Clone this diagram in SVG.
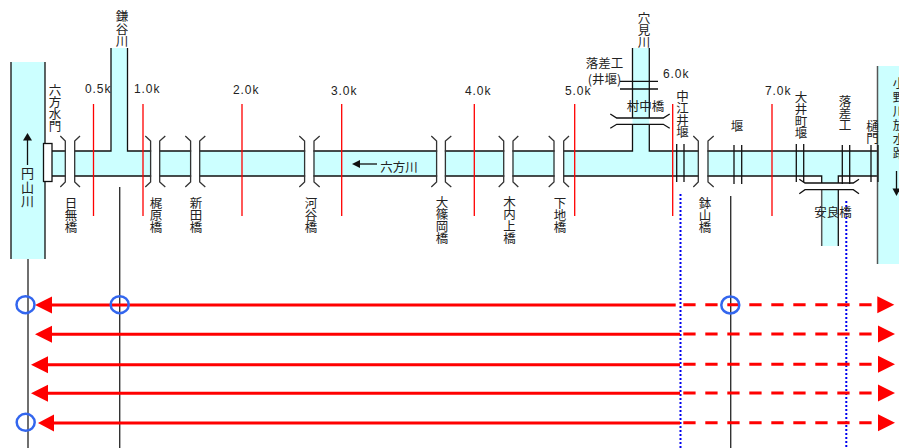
<svg xmlns="http://www.w3.org/2000/svg" width="899" height="448" viewBox="0 0 899 448">
<style>
.w{fill:#ccffff;stroke:none}
.e{fill:none;stroke:#111;stroke-width:1.300}
.g{fill:none;stroke:#333;stroke-width:1.300}
.k{stroke:#111;stroke-width:1.300;fill:none}
.r{stroke:#ff0000;stroke-width:1.300;fill:none}
.b{stroke:#0000ee;stroke-width:2;stroke-dasharray:2 2;fill:none}
.v{stroke:#333;stroke-width:1.400;fill:none}
.a{stroke:#ff0000;stroke-width:3;fill:none}
.d{stroke:#ff0000;stroke-width:3;stroke-dasharray:12.3 9.7;fill:none}
.h{fill:#ff0000}
.c{fill:none;stroke:#3366ee;stroke-width:2.500}
.t{font-family:"Noto Sans CJK JP","Liberation Sans",sans-serif;font-size:12.500px;fill:#222;text-anchor:middle}
.n{font-family:"Liberation Sans",sans-serif;font-size:12px;letter-spacing:.9px;fill:#222;text-anchor:start}
</style>
<g id="water">
<rect class="w" x="11" y="62" width="34" height="197"/>
<rect class="w" x="45" y="151" width="833" height="25"/>
<rect class="w" x="111" y="48" width="16.500" height="103"/>
<rect class="w" x="632.500" y="48" width="16.800" height="103"/>
<rect class="w" x="822" y="176" width="16.300" height="7"/>
<rect class="w" x="822" y="190" width="16.300" height="56"/>
<rect class="w" x="878" y="66" width="21" height="198"/>
</g>
<g id="banks">
<path class="e" d="M11 62V259M45 62V143M45 181V259"/>
<path class="e" d="M111 48V151H52M127.500 48V151H632.500V124M632.500 118V48M649.300 48V118M649.300 124V151H878M52 176H821.700V183M838.300 183V176H878"/>
<path d="M821.700 190V246" fill="none" stroke="#555" stroke-width="1.500"/>
<path class="e" d="M838.300 190V246"/>
<path d="M877.500 66V264" fill="none" stroke="#555" stroke-width="1.500"/>
<path fill="#fff" d="M65.900 145h8.200v37h-8.200zM151.200 145h8v37h-8zM191.200 145h8v37h-8zM305.200 145h8.200v37h-8.200zM437.200 145h7.600v37h-7.600zM504.300 145h8.100v37h-8.100zM554.600 145h8.500v37h-8.500zM698.900 145h8.500v37h-8.500z"/>
</g>
<g id="bridges">
<path class="g" d="M60.300 136l5 5V182l-5 5M80 136l-5.300 5V182l5.300 5"/>
<path class="g" d="M145.300 136l5.300 5V182l-5.300 5M165.300 136l-5.600 5V182l5.600 5"/>
<path class="g" d="M185.300 136l5.300 5V182l-5.300 5M205.300 136l-5.600 5V182l5.600 5"/>
<path class="g" d="M299.300 136l5.300 5V182l-5.300 5M319.700 136l-5.700 5V182l5.700 5"/>
<path class="g" d="M431.300 136l5.300 5V182l-5.300 5M451.300 136l-5.900 5V182l5.900 5"/>
<path class="g" d="M498.700 136l5 5V182l-5 5M518.300 136l-5.300 5V182l5.300 5"/>
<path class="g" d="M548.700 136l5.300 5V182l-5.300 5M569 136l-5.300 5V182l5.300 5"/>
<path class="g" d="M693.300 136l5 5V182l-5 5M713.700 136l-5.700 5V182l5.700 5"/>
<path class="e" d="M610.300 114l6.400 4H663.300l6.400-4M610.300 128.300l6.400-4H663.300l6.400 4"/>
<path class="e" d="M799.300 179.300l5.700 3.700H853.300l5.700-3.700M799.300 193.700l5.700-4H853.300l5.700 4"/>
<rect x="43.500" y="143.500" width="8.500" height="38" fill="#fff" stroke="#111" stroke-width="1.300"/>
</g>
<g id="structures">
<path class="k" d="M620 81.300H658M620 89H658"/>
<path class="k" d="M676.700 144V182M684 144V182M734 145V184M741.700 145V184M796.300 144V182M803.700 144V182M842.300 145V184M849.700 145V184M871 145V182M878 145V182"/>
</g>
<g id="connectors">
<path class="r" d="M93.500 104V216M143 104V216M242 104V216M341.700 104V216M474.300 104V216M574.700 104V216M672.700 104V216M772 104V216"/>
<path class="v" d="M28 259V448M119.700 187V448M730.700 196V448"/>
<path class="b" d="M680.500 194V448M846.300 201V448"/>
<path class="a" d="M52 305H675.700M52 334.300H680M48 364.700H680M48 393.300H680M54 423H680"/>
<path class="d" d="M683.300 304.700H872M683.300 334H872M683.300 364.300H872M683.300 393H872M683.300 422.700H872"/>
<path class="h" d="M35 305l17-8.500v17zM35 334.300l17-8.500v17zM31 364.700l17-8.500v17zM31 393.300l17-8.500v17zM38 423l16-8.500v17z"/>
<path class="h" d="M894.300 304.700l-17-8.500v17zM895 334l-17-8.500v17zM895 364.300l-17-8.500v17zM895 393l-17-8.500v17zM895 422.700l-17-8.500v17z"/>
<ellipse class="c" cx="25.500" cy="304.700" rx="9" ry="8.500"/>
<ellipse class="c" cx="119.700" cy="304.700" rx="9" ry="8.500"/>
<ellipse class="c" cx="730.300" cy="305" rx="9" ry="8.500"/>
<ellipse class="c" cx="25.700" cy="422.300" rx="9" ry="8.500"/>
<path d="M27.500 140V165" stroke="#111" stroke-width="1.300"/><path d="M27.500 133l-4.500 7.500h9z" fill="#111"/>
<path d="M360 164H377" stroke="#111" stroke-width="1.300"/><path d="M352 164l8-4v8z" fill="#111"/>
<path d="M896.500 171V190" stroke="#111" stroke-width="1.300"/><path d="M896.500 196l-4-7.500h8z" fill="#111"/>
</g>
<g id="labels">
<text class="t"><tspan x="122" y="21">鎌</tspan><tspan x="122" y="33.500">谷</tspan><tspan x="122" y="46">川</tspan></text>
<text class="t"><tspan x="644" y="23">穴</tspan><tspan x="644" y="35">見</tspan><tspan x="644" y="47">川</tspan></text>
<text class="t"><tspan x="55" y="95">六</tspan><tspan x="55" y="107">方</tspan><tspan x="55" y="119">水</tspan><tspan x="55" y="131">門</tspan></text>
<text class="t"><tspan x="71" y="208">日</tspan><tspan x="71" y="220">無</tspan><tspan x="71" y="232">橋</tspan></text>
<text class="t"><tspan x="156" y="208">梶</tspan><tspan x="156" y="220">原</tspan><tspan x="156" y="232">橋</tspan></text>
<text class="t"><tspan x="196" y="208">新</tspan><tspan x="196" y="220">田</tspan><tspan x="196" y="232">橋</tspan></text>
<text class="t"><tspan x="311" y="208">河</tspan><tspan x="311" y="220">谷</tspan><tspan x="311" y="232">橋</tspan></text>
<text class="t"><tspan x="442" y="207">大</tspan><tspan x="442" y="219">篠</tspan><tspan x="442" y="231">岡</tspan><tspan x="442" y="243">橋</tspan></text>
<text class="t"><tspan x="509.500" y="207">木</tspan><tspan x="509.500" y="219">内</tspan><tspan x="509.500" y="231">上</tspan><tspan x="509.500" y="243">橋</tspan></text>
<text class="t"><tspan x="560" y="208">下</tspan><tspan x="560" y="220">地</tspan><tspan x="560" y="232">橋</tspan></text>
<text class="t"><tspan x="705" y="208">鉢</tspan><tspan x="705" y="220">山</tspan><tspan x="705" y="232">橋</tspan></text>
<text class="t" style="font-size:13px"><tspan x="27.500" y="178">円</tspan><tspan x="27.500" y="192">山</tspan><tspan x="27.500" y="206">川</tspan></text>
<text class="t" x="399" y="172">六方川</text>
<text class="t" x="604.500" y="68">落差工</text>
<text class="t" x="604.500" y="84">(井堰)</text>
<text class="t" x="645.500" y="111">村中橋</text>
<text class="t"><tspan x="682.500" y="101">中</tspan><tspan x="682.500" y="113">江</tspan><tspan x="682.500" y="125">井</tspan><tspan x="682.500" y="137">堰</tspan></text>
<text class="t" x="737" y="131">堰</text>
<text class="t"><tspan x="801" y="102">大</tspan><tspan x="801" y="114">井</tspan><tspan x="801" y="126">町</tspan><tspan x="801" y="138">堰</tspan></text>
<text class="t"><tspan x="845" y="106">落</tspan><tspan x="845" y="118">差</tspan><tspan x="845" y="130">工</tspan></text>
<text class="t"><tspan x="872.500" y="131">樋</tspan><tspan x="872.500" y="143">門</tspan></text>
<text class="t" x="833" y="217">安良橋</text>
<text class="t"><tspan x="899" y="88">小</tspan><tspan x="899" y="102">野</tspan><tspan x="899" y="116">川</tspan><tspan x="899" y="130">放</tspan><tspan x="899" y="144">水</tspan><tspan x="899" y="158">路</tspan></text>
<text class="n" x="85" y="93">0.5k</text>
<text class="n" x="134" y="93">1.0k</text>
<text class="n" x="233" y="94">2.0k</text>
<text class="n" x="331" y="95">3.0k</text>
<text class="n" x="465" y="95">4.0k</text>
<text class="n" x="565" y="95">5.0k</text>
<text class="n" x="663" y="78">6.0k</text>
<text class="n" x="765" y="95">7.0k</text>
</g>
</svg>
